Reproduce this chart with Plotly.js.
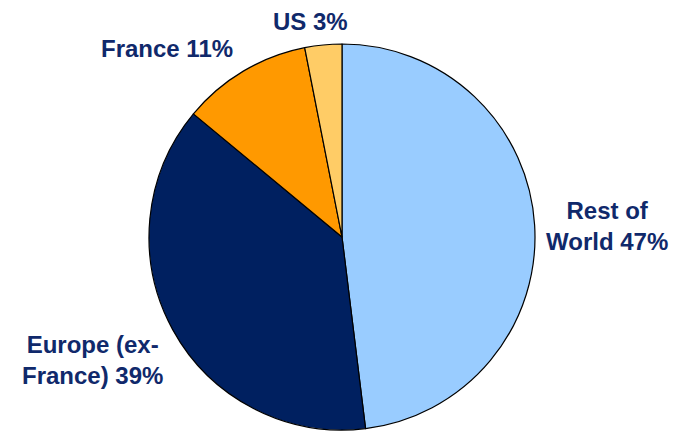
<!DOCTYPE html>
<html>
<head>
<meta charset="utf-8">
<script src="https://cdn.plot.ly/plotly-3.0.1.min.js"></script>
<style>html,body{margin:0;padding:0;background:#fff;}#chart{width:675px;height:431px;}</style>
</head>
<body>
<div id="chart"></div>
<script>
var categories = ["Rest of World", "Europe (ex-France)", "France", "US"];
var values = [48.1, 38.0, 10.9, 3.1];
var labelTexts = ["Rest of<br>World 47%", "Europe (ex-<br>France) 39%", "France 11%", "US 3%"];
var sliceColors = ["#99CCFF", "#002060", "#FF9900", "#FFCC66"];
var labelPos = [[607, 226], [92, 360], [167, 48], [310, 22]];

var W = 675, H = 431, cx = 342, cy = 237, r = 193;

var annotations = labelTexts.map(function (t, i) {
  return {
    text: t, xref: "paper", yref: "paper",
    x: labelPos[i][0] / W, y: 1 - labelPos[i][1] / H,
    xanchor: "center", yanchor: "middle", showarrow: false, align: "center",
    font: {family: "Arial, 'Liberation Sans', sans-serif", size: 24, color: "#10296B", weight: "bold"}
  };
});

var data = [{
  type: "pie",
  labels: categories,
  values: values,
  sort: false,
  direction: "clockwise",
  rotation: 0,
  textinfo: "none",
  hoverinfo: "label+percent",
  marker: {colors: sliceColors, line: {color: "#000000", width: 1.2}},
  domain: {x: [(cx - r) / W, (cx + r) / W], y: [(H - cy - r) / H, (H - cy + r) / H]},
  showlegend: false
}];

var layout = {
  width: W, height: H,
  margin: {l: 0, r: 0, t: 0, b: 0},
  paper_bgcolor: "#ffffff",
  plot_bgcolor: "#ffffff",
  showlegend: false,
  annotations: annotations
};

Plotly.newPlot("chart", data, layout, {staticPlot: true, displayModeBar: false});
</script>
</body>
</html>
